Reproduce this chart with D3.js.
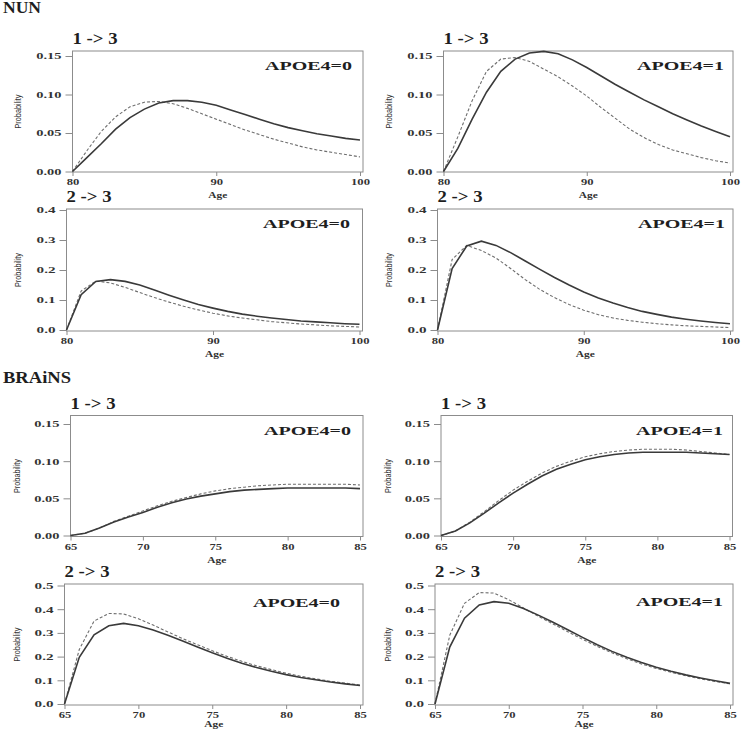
<!DOCTYPE html>
<html>
<head>
<meta charset="utf-8">
<script src="https://cdn.jsdelivr.net/npm/d3@7"></script>
<style>
  html, body { margin: 0; padding: 0; background: #fff; }
  svg { display: block; }
</style>
</head>
<body>
<svg id="chart" width="742" height="731"></svg>
<script>
// ---------- categories ----------
const nunAges    = [80,81,82,83,84,85,86,87,88,89,90,91,92,93,94,95,96,97,98,99,100];
const brainsAges = [65,66,67,68,69,70,71,72,73,74,75,76,77,78,79,80,81,82,83,84,85];

// ---------- tick values ----------
const nunXTicks     = [80, 90, 100];
const brainsXTicks  = [65, 70, 75, 80, 85];
const yTicks13      = [0, 0.05, 0.10, 0.15];
const yTicksNun23   = [0, 0.1, 0.2, 0.3, 0.4];
const yTicksBrn23   = [0, 0.1, 0.2, 0.3, 0.4, 0.5];

// ---------- series values (solid / dashed) ----------
// NUN 1 -> 3
const nun13_apoe0_solid  = [0,0.018,0.036,0.055,0.070,0.081,0.089,0.092,0.092,0.090,0.086,0.080,0.074,0.068,0.062,0.057,0.053,0.049,0.046,0.043,0.041];
const nun13_apoe0_dashed = [0,0.027,0.052,0.071,0.084,0.090,0.091,0.088,0.082,0.075,0.068,0.061,0.054,0.048,0.042,0.037,0.032,0.028,0.025,0.022,0.019];
const nun13_apoe1_solid  = [0,0.030,0.068,0.103,0.130,0.146,0.154,0.156,0.153,0.145,0.135,0.124,0.113,0.103,0.093,0.084,0.075,0.067,0.059,0.052,0.045];
const nun13_apoe1_dashed = [0,0.045,0.092,0.130,0.146,0.148,0.143,0.133,0.123,0.111,0.098,0.083,0.069,0.055,0.044,0.035,0.028,0.023,0.018,0.014,0.011];
// NUN 2 -> 3
const nun23_apoe0_solid  = [0,0.118,0.162,0.168,0.162,0.150,0.133,0.116,0.100,0.085,0.073,0.062,0.053,0.046,0.040,0.035,0.030,0.027,0.024,0.021,0.019];
const nun23_apoe0_dashed = [0,0.130,0.163,0.157,0.142,0.125,0.108,0.093,0.079,0.067,0.056,0.047,0.040,0.034,0.028,0.024,0.020,0.017,0.014,0.012,0.010];
const nun23_apoe1_solid  = [0,0.205,0.280,0.296,0.282,0.258,0.230,0.202,0.175,0.150,0.127,0.107,0.090,0.075,0.062,0.052,0.043,0.036,0.030,0.025,0.021];
const nun23_apoe1_dashed = [0,0.235,0.282,0.265,0.240,0.205,0.168,0.135,0.108,0.085,0.066,0.051,0.040,0.032,0.026,0.021,0.017,0.014,0.012,0.010,0.008];
// BRAiNS 1 -> 3
const brn13_apoe0_solid  = [0,0.003,0.010,0.018,0.025,0.031,0.038,0.044,0.049,0.053,0.056,0.059,0.061,0.062,0.063,0.064,0.064,0.064,0.064,0.064,0.063];
const brn13_apoe0_dashed = [0,0.003,0.010,0.019,0.026,0.033,0.040,0.046,0.051,0.056,0.060,0.063,0.065,0.067,0.068,0.069,0.069,0.069,0.069,0.069,0.068];
const brn13_apoe1_solid  = [0,0.006,0.017,0.030,0.044,0.057,0.069,0.080,0.089,0.096,0.102,0.106,0.109,0.111,0.112,0.112,0.112,0.112,0.111,0.110,0.109];
const brn13_apoe1_dashed = [0,0.006,0.018,0.032,0.047,0.061,0.073,0.084,0.093,0.100,0.106,0.110,0.113,0.115,0.116,0.116,0.116,0.115,0.113,0.111,0.109];
// BRAiNS 2 -> 3
const brn23_apoe0_solid  = [0,0.197,0.292,0.330,0.340,0.330,0.312,0.290,0.266,0.241,0.216,0.193,0.172,0.154,0.138,0.124,0.112,0.102,0.093,0.085,0.078];
const brn23_apoe0_dashed = [0,0.230,0.350,0.382,0.380,0.360,0.333,0.304,0.276,0.250,0.225,0.201,0.180,0.161,0.145,0.130,0.117,0.106,0.096,0.088,0.080];
const brn23_apoe1_solid  = [0,0.240,0.362,0.418,0.432,0.425,0.403,0.375,0.345,0.313,0.281,0.250,0.222,0.197,0.175,0.155,0.138,0.123,0.110,0.098,0.087];
const brn23_apoe1_dashed = [0,0.290,0.425,0.470,0.468,0.440,0.405,0.370,0.338,0.305,0.273,0.243,0.216,0.191,0.169,0.150,0.134,0.119,0.106,0.095,0.085];

// ---------- text ----------
const sectionTitles = ["NUN", "BRAiNS"];
const transTitles   = ["1 -> 3", "2 -> 3"];
const apoeLabels    = ["APOE4=0", "APOE4=1"];
const yAxisTitle = "Probability";
const xAxisTitle = "Age";

// ---------- layout (positions only) ----------
const panels = [
  {L:72.5, R:363, T:51, B:172, y0:171.5, y1:56, ages:nunAges, xT:nunXTicks, yT:yTicks13, fmt:".2f", s:nun13_apoe0_solid, d:nun13_apoe0_dashed, t:0, a:0, aEnd:352, aBase:70, pX:18, ageDy:26},
  {L:443.5, R:733, T:51, B:172, y0:171.5, y1:56, ages:nunAges, xT:nunXTicks, yT:yTicks13, fmt:".2f", s:nun13_apoe1_solid, d:nun13_apoe1_dashed, t:0, a:1, aEnd:724, aBase:70, pX:389, ageDy:26},
  {L:66.5, R:362.5, T:209, B:331, y0:330, y1:210, ages:nunAges, xT:nunXTicks, yT:yTicksNun23, fmt:".1f", s:nun23_apoe0_solid, d:nun23_apoe0_dashed, t:1, a:0, aEnd:350, aBase:228, pX:18, ageDy:26},
  {L:437.5, R:733, T:209, B:331, y0:330, y1:210, ages:nunAges, xT:nunXTicks, yT:yTicksNun23, fmt:".1f", s:nun23_apoe1_solid, d:nun23_apoe1_dashed, t:1, a:1, aEnd:725, aBase:228, pX:389, ageDy:26},
  {L:70.5, R:363, T:415.5, B:536.5, y0:535.5, y1:424, ages:brainsAges, xT:brainsXTicks, yT:yTicks13, fmt:".2f", s:brn13_apoe0_solid, d:brn13_apoe0_dashed, t:0, a:0, aEnd:351, aBase:435, pX:17, ageDy:26},
  {L:441, R:732.5, T:415.5, B:536.5, y0:535.5, y1:424, ages:brainsAges, xT:brainsXTicks, yT:yTicks13, fmt:".2f", s:brn13_apoe1_solid, d:brn13_apoe1_dashed, t:0, a:1, aEnd:723, aBase:435, pX:388, ageDy:26},
  {L:64.5, R:363, T:584, B:705, y0:704, y1:585.5, ages:brainsAges, xT:brainsXTicks, yT:yTicksBrn23, fmt:".1f", s:brn23_apoe0_solid, d:brn23_apoe0_dashed, t:1, a:0, aEnd:340, aBase:607, pX:17, ageDy:22},
  {L:435, R:733, T:584, B:705, y0:704, y1:585.5, ages:brainsAges, xT:brainsXTicks, yT:yTicksBrn23, fmt:".1f", s:brn23_apoe1_solid, d:brn23_apoe1_dashed, t:1, a:1, aEnd:723, aBase:606, pX:388, ageDy:22}
];
const sectionPos = [{x:3, y:13, len:38}, {x:3, y:383, len:68}];

const svg = d3.select("#chart");
const serif = "'Liberation Serif', 'Times New Roman', serif";
const frameColor = "#8c8c8c";
const textColor = "#1e1e1e";

sectionTitles.forEach((name, i) => {
  svg.append("text")
    .attr("x", sectionPos[i].x).attr("y", sectionPos[i].y)
    .attr("font-family", serif).attr("font-weight", "bold").attr("font-size", 16)
    .attr("textLength", sectionPos[i].len).attr("lengthAdjust", "spacingAndGlyphs")
    .attr("fill", textColor).text(name);
});

panels.forEach(p => {
  const g = svg.append("g");
  const x = d3.scaleLinear().domain(d3.extent(p.ages)).range([p.L, p.R - 3]);
  const y = d3.scaleLinear().domain([0, d3.max(p.yT)]).range([p.y0, p.y1]);

  // x axis
  const xa = g.append("g").attr("transform", `translate(0,${p.B})`)
    .call(d3.axisBottom(x).tickValues(p.xT).tickSize(4).tickPadding(3).tickFormat(d3.format("d")));
  // y axis
  const ya = g.append("g").attr("transform", `translate(${p.L},0)`)
    .call(d3.axisLeft(y).tickValues(p.yT).tickSize(7).tickPadding(4).tickFormat(d3.format(p.fmt)));
  [xa, ya].forEach(ax => {
    ax.select(".domain").remove();
    ax.selectAll("line").attr("stroke", frameColor);
    ax.selectAll("text")
      .attr("font-family", serif).attr("font-weight", "bold").attr("font-size", 9)
      .attr("fill", "#333")
      .attr("textLength", function() { return this.textContent.length * 6.3; })
      .attr("lengthAdjust", "spacingAndGlyphs");
  });

  // frame
  g.append("rect").attr("x", p.L).attr("y", p.T)
    .attr("width", p.R - p.L).attr("height", p.B - p.T)
    .attr("fill", "none").attr("stroke", frameColor).attr("stroke-width", 1);

  const line = d3.line().x((d, i) => x(p.ages[i])).y(d => y(d));
  g.append("path").datum(p.d).attr("d", line)
    .attr("fill", "none").attr("stroke", "#6e6e6e").attr("stroke-width", 1.1)
    .attr("stroke-dasharray", "3,2");
  g.append("path").datum(p.s).attr("d", line)
    .attr("fill", "none").attr("stroke", "#3a3a3a").attr("stroke-width", 1.6);

  // transition title
  g.append("text").attr("x", p.L).attr("y", p.T - 7)
    .attr("font-family", serif).attr("font-weight", "bold").attr("font-size", 16)
    .attr("textLength", 45).attr("lengthAdjust", "spacingAndGlyphs")
    .attr("fill", textColor).text(transTitles[p.t]);

  // APOE label
  g.append("text").attr("x", p.aEnd - 87).attr("y", p.aBase)
    .attr("font-family", serif).attr("font-weight", "bold").attr("font-size", 13)
    .attr("textLength", 87).attr("lengthAdjust", "spacingAndGlyphs")
    .attr("fill", textColor).text(apoeLabels[p.a]);

  // axis titles
  g.append("text").attr("x", (p.L + p.R) / 2).attr("y", p.B + p.ageDy)
    .attr("text-anchor", "middle")
    .attr("font-family", serif).attr("font-weight", "bold").attr("font-size", 9)
    .attr("textLength", 19).attr("lengthAdjust", "spacingAndGlyphs")
    .attr("fill", "#333").text(xAxisTitle);
  const cy = (p.T + p.B) / 2;
  g.append("text")
    .attr("transform", `translate(${p.pX + 3},${cy}) rotate(-90)`)
    .attr("text-anchor", "middle")
    .attr("font-family", "'Liberation Sans', Arial, sans-serif").attr("font-size", 9)
    .attr("textLength", 34).attr("lengthAdjust", "spacingAndGlyphs")
    .attr("fill", "#333").text(yAxisTitle);
});
</script>
</body>
</html>
